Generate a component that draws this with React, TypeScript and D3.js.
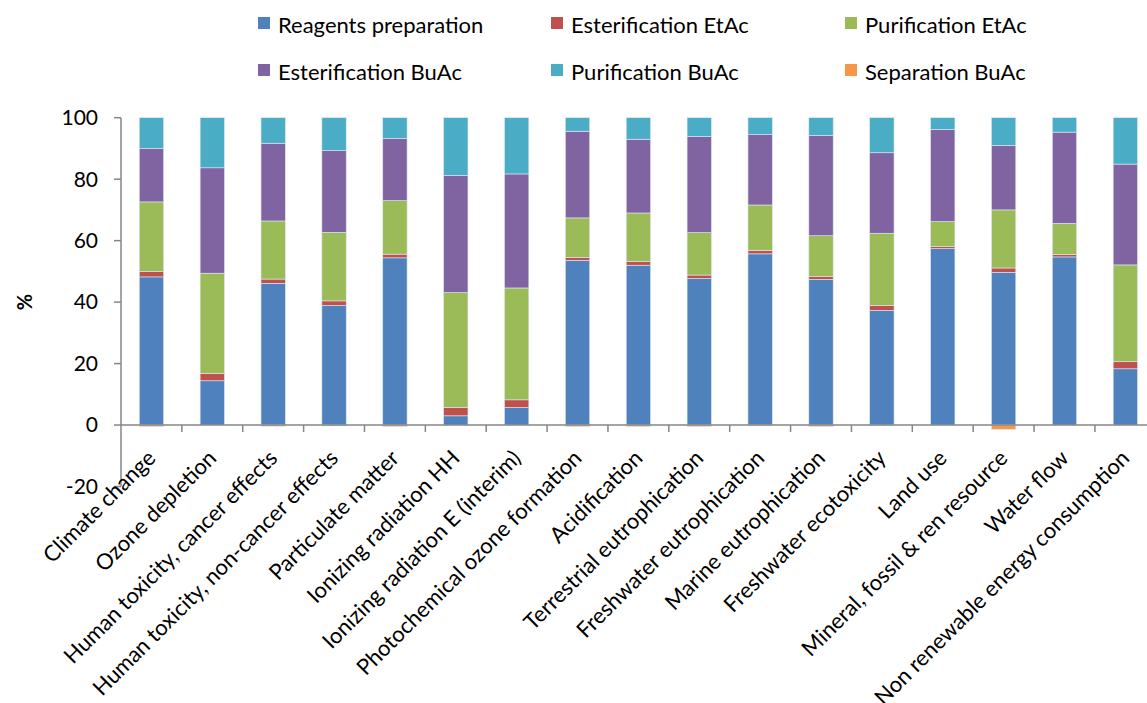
import React from "react";
import * as d3 from "d3";

const categories = [
  "Climate change",
  "Ozone depletion",
  "Human toxicity, cancer effects",
  "Human toxicity, non-cancer effects",
  "Particulate matter",
  "Ionizing radiation HH",
  "Ionizing radiation E (interim)",
  "Photochemical ozone formation",
  "Acidification",
  "Terrestrial eutrophication",
  "Freshwater eutrophication",
  "Marine eutrophication",
  "Freshwater ecotoxicity",
  "Land use",
  "Mineral, fossil & ren resource",
  "Water flow",
  "Non renewable energy consumption",
];

const seriesNames = [
  "Reagents preparation",
  "Esterification EtAc",
  "Purification EtAc",
  "Esterification BuAc",
  "Purification BuAc",
  "Separation BuAc",
];

const reagentsPreparation = [48.2, 14.4, 46.1, 38.9, 54.4, 3.0, 5.7, 53.6, 52.0, 47.7, 55.7, 47.4, 37.3, 57.4, 49.7, 54.7, 18.3];
const esterificationEtAc = [1.7, 2.4, 1.4, 1.5, 1.2, 2.7, 2.5, 0.9, 1.2, 1.1, 1.1, 0.9, 1.6, 0.7, 1.4, 0.8, 2.3];
const purificationEtAc = [22.7, 32.6, 18.9, 22.3, 17.4, 37.4, 36.4, 12.9, 15.8, 13.8, 14.8, 13.3, 23.5, 8.1, 18.9, 10.1, 31.5];
const esterificationBuAc = [17.4, 34.3, 25.3, 26.6, 20.3, 38.1, 37.1, 28.2, 24.0, 31.3, 22.9, 32.6, 26.2, 30.0, 21.0, 29.7, 32.8];
const purificationBuAc = [10.0, 16.3, 8.3, 10.7, 6.7, 18.8, 18.3, 4.4, 7.0, 6.1, 5.5, 5.8, 11.4, 3.8, 9.0, 4.7, 15.1];
const separationBuAc = [-0.5, 0, -0.4, -0.3, -0.5, 0, 0, -0.5, -0.5, -0.5, -0.2, -0.5, -0.2, 0, -1.4, 0, 0];

const colors = ["#4F81BD", "#C0504D", "#9BBB59", "#8064A2", "#4BACC6", "#F79646"];
const yTicks = [-20, 0, 20, 40, 60, 80, 100];

const W = 1147;
const H = 703;
const FONT = "Lato, 'Open Sans', 'DejaVu Sans', sans-serif";

export default function App() {
  const seriesValues = [
    reagentsPreparation,
    esterificationEtAc,
    purificationEtAc,
    esterificationBuAc,
    purificationBuAc,
    separationBuAc,
  ];
  const rows = categories.map((c, i) => {
    const r: any = { category: c };
    seriesNames.forEach((s, j) => (r[s] = seriesValues[j][i]));
    return r;
  });
  const stacked = d3
    .stack<any>()
    .keys(seriesNames)
    .offset(d3.stackOffsetDiverging)(rows);

  const x0 = 121;
  const x1 = 121 + 17 * 60.87;
  const x = d3.scaleBand().domain(categories).range([x0, x1]).paddingInner(0.6).paddingOuter(0.3);
  const xb = d3.scaleBand().domain(categories).range([x0, x1]);
  const y = d3.scaleLinear().domain([-20, 100]).range([486.5, 117.7]);

  const legendPos = [
    [258, 25],
    [551, 25],
    [845, 25],
    [258, 72],
    [551, 72],
    [845, 72],
  ];

  return (
    <div style={{ position: "absolute", left: 0, top: 0 }}>
      <svg width={W} height={H} style={{ display: "block", background: "#fff" }}>
        {/* legend */}
        {seriesNames.map((s, i) => (
          <g key={s} transform={`translate(${legendPos[i][0]},${legendPos[i][1]})`}>
            <rect x={0} y={-8} width={12} height={12} fill={colors[i]} />
            <text x={20} y={0} dy="0.35em" fontFamily={FONT} fontSize={22} fill="#000">
              {s}
            </text>
          </g>
        ))}

        {/* y axis */}
        <line x1={x0} x2={x0} y1={y(100)} y2={y(-20)} stroke="#868686" strokeWidth={1.5} />
        {yTicks.map((t) => (
          <g key={t}>
            <line x1={x0 - 7} x2={x0} y1={y(t)} y2={y(t)} stroke="#868686" strokeWidth={1.5} />
            <text x={98} y={y(t)} dy="0.35em" textAnchor="end" fontFamily={FONT} fontSize={21} fill="#000">
              {t}
            </text>
          </g>
        ))}
        <text
          transform={`translate(32,302) rotate(-90)`}
          textAnchor="middle"
          fontFamily={FONT}
          fontSize={20}
          fontWeight="bold"
          fill="#000"
        >
          %
        </text>

        {/* bars */}
        {stacked.map((layer, i) => (
          <g key={layer.key} fill={colors[i]}>
            {layer.map((d, j) => {
              const top = y(Math.max(d[0], d[1]));
              const bot = y(Math.min(d[0], d[1]));
              if (bot - top <= 0) return null;
              return (
                <rect
                  key={j}
                  x={x(categories[j])!}
                  width={x.bandwidth()}
                  y={top}
                  height={bot - top}
                  stroke="#dfe8f3"
                  strokeWidth={0.6}
                />
              );
            })}
          </g>
        ))}

        {/* x axis */}
        <line x1={x0} x2={x1} y1={y(0)} y2={y(0)} stroke="#868686" strokeWidth={1.5} />
        {categories.map((c) => (
          <line
            key={c}
            x1={xb(c)! + xb.bandwidth()}
            x2={xb(c)! + xb.bandwidth()}
            y1={y(0)}
            y2={y(0) + 7}
            stroke="#868686"
            strokeWidth={1.5}
          />
        ))}
        {categories.map((c) => {
          const cx = xb(c)! + xb.bandwidth() / 2;
          return (
            <text
              key={c}
              transform={`translate(${cx},${y(0) + 29}) rotate(-45)`}
              textAnchor="end"
              dy="0.35em"
              fontFamily={FONT}
              fontSize={22}
              fill="#000"
            >
              {c}
            </text>
          );
        })}
      </svg>
    </div>
  );
}
